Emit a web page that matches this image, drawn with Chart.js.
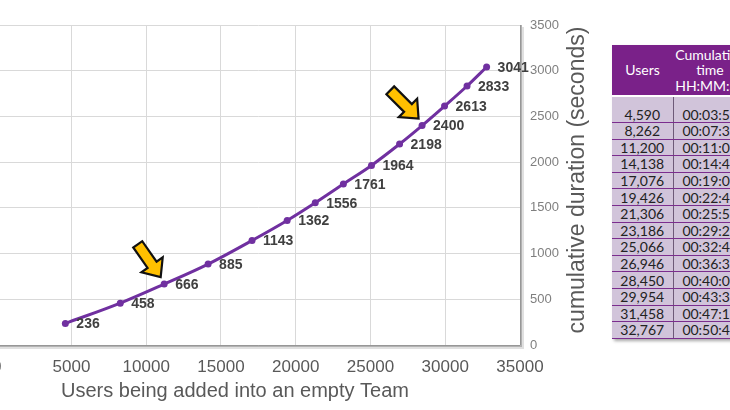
<!DOCTYPE html>
<html>
<head>
<meta charset="utf-8">
<script src="https://cdn.jsdelivr.net/npm/chart.js@4.4.0/dist/chart.umd.min.js"></script>
<style>
  html, body { margin: 0; padding: 0; background: #fff; }
  body { width: 730px; height: 410px; position: relative; overflow: hidden; }
  #wrap { position: absolute; left: -20px; top: 0; width: 620px; height: 410px; }
  #usersTable {
    position: absolute; left: 612px; top: 45px; width: 135px;
    border-collapse: collapse; table-layout: fixed;
    font-family: Lato, "Open Sans", sans-serif; font-size: 14px;
    box-shadow: 2px 2px 3px rgba(0,0,0,0.35);
  }
  #usersTable th {
    background: #7a2189; color: #fff; font-weight: normal;
    height: 50px; padding: 0; line-height: 15.5px; text-align: center;
    border-bottom: 2px solid #fff; white-space: nowrap;
  }
  #usersTable td {
    background: #d1c4da; color: #222; text-align: center;
    height: 15.6px; padding: 0; line-height: 15px; white-space: nowrap;
    border-bottom: 1px solid #7b2d8e;
  }
  #usersTable tr.first td { height: 25px; vertical-align: bottom; }
  #usersTable td.c1 { border-right: 1px solid #6d5a78; }
</style>
</head>
<body>
<div id="wrap"><canvas id="durationChart" width="620" height="410"></canvas></div>
<table id="usersTable">
  <colgroup><col style="width:61px"><col style="width:74px"></colgroup>
  <thead><tr><th>Users</th><th>Cumulative<br>time<br>HH:MM:SS</th></tr></thead>
  <tbody id="tableBody"></tbody>
</table>
<script>
// ---------- Data ----------
const users = [4590, 8262, 11200, 14138, 17076, 19426, 21306, 23186, 25066, 26946, 28450, 29954, 31458, 32767];
const durationSec = [236, 458, 666, 885, 1143, 1362, 1556, 1761, 1964, 2198, 2400, 2613, 2833, 3041];
const durationHMS = ['00:03:56', '00:07:38', '00:11:06', '00:14:45', '00:19:03', '00:22:42', '00:25:56',
  '00:29:21', '00:32:44', '00:36:38', '00:40:00', '00:43:33', '00:47:13', '00:50:41'];
const xTicks = [0, 5000, 10000, 15000, 20000, 25000, 30000, 35000];
const yTicks = [0, 500, 1000, 1500, 2000, 2500, 3000, 3500];
// indexes of the points the yellow arrows point at
const arrowPoints = [2, 10];

const xTitle = 'Users being added into an empty Team';
const yTitle = 'cumulative duration (seconds)';

// ---------- Table ----------
const tbody = document.getElementById('tableBody');
users.forEach((u, i) => {
  const tr = document.createElement('tr');
  if (i === 0) tr.className = 'first';
  tr.innerHTML = `<td class="c1">${u.toLocaleString('en-US')}</td><td>${durationHMS[i]}</td>`;
  tbody.appendChild(tr);
});

// ---------- Plugins ----------
const purple = '#7030a0';
const axisGrey = '#595959';
const arial = '"Liberation Sans", Arial, sans-serif';

const extrasPlugin = {
  id: 'extras',
  afterDatasetsDraw(chart) {
    const { ctx, chartArea: a } = chart;
    const meta = chart.getDatasetMeta(0);

    // plot frame shadow (bottom + right)
    ctx.save();
    ctx.strokeStyle = 'rgba(0,0,0,0.3)';
    ctx.lineWidth = 2;
    ctx.beginPath();
    ctx.moveTo(a.left, a.bottom + 1);
    ctx.lineTo(a.right + 1, a.bottom + 1);
    ctx.lineTo(a.right + 1, a.top);
    ctx.stroke();
    ctx.strokeStyle = 'rgba(0,0,0,0.12)';
    ctx.beginPath();
    ctx.moveTo(a.left, a.bottom + 3);
    ctx.lineTo(a.right + 3, a.bottom + 3);
    ctx.lineTo(a.right + 3, a.top + 2);
    ctx.stroke();
    ctx.restore();

    // value labels
    ctx.save();
    ctx.font = 'bold 14px ' + arial;
    ctx.fillStyle = '#404040';
    ctx.textBaseline = 'middle';
    ctx.textAlign = 'left';
    meta.data.forEach((pt, i) => {
      ctx.fillText(String(durationSec[i]), pt.x + 11, pt.y + 1);
    });
    ctx.restore();

    // block arrows
    const angles = [55, 45];
    arrowPoints.forEach((idx, k) => {
      const pt = meta.data[idx];
      ctx.save();
      ctx.translate(pt.x - 3.5, pt.y - 7);
      ctx.rotate(angles[k] * Math.PI / 180);
      const L = 40, hl = 15, sw = 5.5, hw = 13;
      ctx.beginPath();
      ctx.moveTo(0, 0);
      ctx.lineTo(-hl, -hw);
      ctx.lineTo(-hl, -sw);
      ctx.lineTo(-L, -sw);
      ctx.lineTo(-L, sw);
      ctx.lineTo(-hl, sw);
      ctx.lineTo(-hl, hw);
      ctx.closePath();
      ctx.fillStyle = '#ffc000';
      ctx.fill();
      ctx.lineJoin = 'miter';
      ctx.lineWidth = 2.2;
      ctx.strokeStyle = '#111';
      ctx.stroke();
      ctx.restore();
    });
  },
  afterDraw(chart) {
    const { ctx, chartArea: a } = chart;
    ctx.save();
    ctx.fillStyle = axisGrey;
    ctx.textAlign = 'center';
    ctx.textBaseline = 'middle';
    // x title, centred on the full (cropped) figure
    ctx.font = '20px ' + arial;
    ctx.fillText(xTitle, 255, 391);
    // y title on the right, reading bottom to top
    ctx.translate(598, (a.top + a.bottom) / 2 - 5);
    ctx.rotate(-Math.PI / 2);
    ctx.font = '23px ' + arial;
    ctx.fillText(yTitle, 0, 0);
    ctx.restore();
  }
};

// ---------- Chart ----------
const ctx = document.getElementById('durationChart').getContext('2d');

new Chart(ctx, {
  type: 'line',
  data: {
    datasets: [{
      label: 'cumulative duration',
      data: users.map((u, i) => ({ x: u, y: durationSec[i] })),
      borderColor: purple,
      backgroundColor: purple,
      borderWidth: 3,
      pointRadius: 3.5,
      pointHoverRadius: 3.5,
      pointBorderWidth: 0,
      cubicInterpolationMode: 'monotone'
    }]
  },
  options: {
    responsive: false,
    animation: false,
    devicePixelRatio: 1,
    layout: { padding: { left: 12, top: 25, right: 0, bottom: 0 } },
    plugins: { legend: { display: false }, tooltip: { enabled: false } },
    scales: {
      x: {
        type: 'linear',
        min: xTicks[0],
        max: xTicks[xTicks.length - 1],
        afterBuildTicks: (s) => { s.ticks = xTicks.map(v => ({ value: v })); },
        afterFit: (s) => { s.height = 65; },
        ticks: {
          color: axisGrey,
          padding: 12,
          maxRotation: 0,
          callback: (v) => String(v),
          font: { family: arial, size: 17 }
        },
        grid: { color: '#d9d9d9', drawTicks: false },
        border: { display: false }
      },
      y: {
        position: 'right',
        min: yTicks[0],
        max: yTicks[yTicks.length - 1],
        afterBuildTicks: (s) => { s.ticks = yTicks.map(v => ({ value: v })); },
        afterFit: (s) => { s.width = 80; },
        ticks: {
          color: '#7f7f7f',
          padding: 10,
          callback: (v) => String(v),
          font: { family: arial, size: 13 }
        },
        grid: { color: '#d9d9d9', drawTicks: false },
        border: { display: false }
      }
    }
  },
  plugins: [extrasPlugin]
});
</script>
</body>
</html>
